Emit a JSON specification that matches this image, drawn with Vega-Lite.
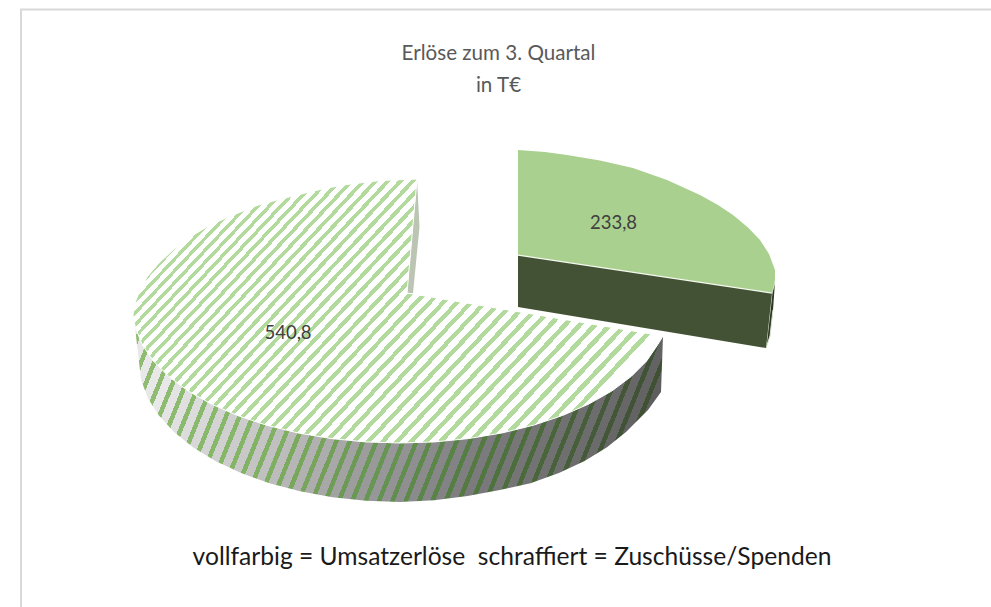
{"$schema":"https://vega.github.io/schema/vega-lite/v6.json","width":991,"height":607,"padding":0,"autosize":"none","background":"white","config":{"view":{"stroke":null}},
"title":{"text":["Erlöse zum 3. Quartal","in T€"],"font":"Lato","fontSize":20.6,"fontWeight":"normal","color":"#595959","anchor":"middle","dx":3,"offset":-97,"lineHeight":32},
"encoding":{"x":{"field":"x","type":"quantitative","scale":{"domain":[0,991]},"axis":null},"y":{"field":"y","type":"quantitative","scale":{"domain":[607,0]},"axis":null}},
"layer":[
{"mark":{"type":"line","stroke":"#d9d9d9","strokeWidth":2},"encoding":{"order":{"value":null}},"data":{"values":[{"x":991,"y":9.5},{"x":21,"y":9.5},{"x":21,"y":607}]}},
{"mark":{"type":"line","fill":"#bcc4b4","stroke":null},"encoding":{"order":{"value":null}},"data":{"values":[{"x":417,"y":179},{"x":419.5,"y":227},{"x":413,"y":293},{"x":407,"y":293}]}},
{"mark":{"type":"line","stroke":null,"fill":{"gradient":"linear","x1":0,"y1":0,"x2":1.1225,"y2":0.1646,"stops":[
{"offset":0,"color":"#8fbc72"},{"offset":0.008,"color":"#8fbc72"},{"offset":0.008,"color":"#e8e8e8"},{"offset":0.022,"color":"#e8e8e8"},
{"offset":0.022,"color":"#8fbc72"},{"offset":0.03,"color":"#8fbc72"},{"offset":0.03,"color":"#e8e8e8"},{"offset":0.044,"color":"#e8e8e8"},
{"offset":0.044,"color":"#8fbc72"},{"offset":0.052,"color":"#8fbc72"},{"offset":0.052,"color":"#e8e8e8"},{"offset":0.066,"color":"#e8e8e8"},
{"offset":0.066,"color":"#8fbc72"},{"offset":0.074,"color":"#8fbc72"},{"offset":0.074,"color":"#e8e8e8"},{"offset":0.088,"color":"#e8e8e8"},
{"offset":0.088,"color":"#8fbc72"},{"offset":0.096,"color":"#8fbc72"},{"offset":0.096,"color":"#e8e8e8"},{"offset":0.11,"color":"#e8e8e8"},
{"offset":0.11,"color":"#8dbb70"},{"offset":0.118,"color":"#8dbb70"},{"offset":0.118,"color":"#e4e4e4"},{"offset":0.132,"color":"#e4e4e4"},
{"offset":0.132,"color":"#8cbb6f"},{"offset":0.14,"color":"#8cbb6f"},{"offset":0.14,"color":"#e0e0e0"},{"offset":0.154,"color":"#e0e0e0"},
{"offset":0.154,"color":"#8aba6d"},{"offset":0.162,"color":"#8aba6d"},{"offset":0.162,"color":"#dcdcdc"},{"offset":0.176,"color":"#dcdcdc"},
{"offset":0.176,"color":"#89b96c"},{"offset":0.184,"color":"#89b96c"},{"offset":0.184,"color":"#d8d8d8"},{"offset":0.198,"color":"#d8d8d8"},
{"offset":0.198,"color":"#88b86a"},{"offset":0.206,"color":"#88b86a"},{"offset":0.206,"color":"#d4d4d4"},{"offset":0.22,"color":"#d4d4d4"},
{"offset":0.22,"color":"#87b869"},{"offset":0.228,"color":"#87b869"},{"offset":0.228,"color":"#d0d0d0"},{"offset":0.242,"color":"#d0d0d0"},
{"offset":0.242,"color":"#86b768"},{"offset":0.25,"color":"#86b768"},{"offset":0.25,"color":"#cccccc"},{"offset":0.264,"color":"#cccccc"},
{"offset":0.264,"color":"#84b566"},{"offset":0.272,"color":"#84b566"},{"offset":0.272,"color":"#c8c8c8"},{"offset":0.286,"color":"#c8c8c8"},
{"offset":0.286,"color":"#82b264"},{"offset":0.294,"color":"#82b264"},{"offset":0.294,"color":"#c4c4c4"},{"offset":0.308,"color":"#c4c4c4"},
{"offset":0.308,"color":"#80b062"},{"offset":0.316,"color":"#80b062"},{"offset":0.316,"color":"#c0c0c0"},{"offset":0.33,"color":"#c0c0c0"},
{"offset":0.33,"color":"#7eae60"},{"offset":0.338,"color":"#7eae60"},{"offset":0.338,"color":"#bcbcbc"},{"offset":0.352,"color":"#bcbcbc"},
{"offset":0.352,"color":"#7baa5e"},{"offset":0.36,"color":"#7baa5e"},{"offset":0.36,"color":"#b6b6b6"},{"offset":0.374,"color":"#b6b6b6"},
{"offset":0.374,"color":"#78a75c"},{"offset":0.382,"color":"#78a75c"},{"offset":0.382,"color":"#b1b1b1"},{"offset":0.396,"color":"#b1b1b1"},
{"offset":0.396,"color":"#76a55b"},{"offset":0.404,"color":"#76a55b"},{"offset":0.404,"color":"#adadad"},{"offset":0.418,"color":"#adadad"},
{"offset":0.418,"color":"#739f59"},{"offset":0.426,"color":"#739f59"},{"offset":0.426,"color":"#a8a8a8"},{"offset":0.44,"color":"#a8a8a8"},
{"offset":0.44,"color":"#6f9d57"},{"offset":0.448,"color":"#6f9d57"},{"offset":0.448,"color":"#a2a2a2"},{"offset":0.462,"color":"#a2a2a2"},
{"offset":0.462,"color":"#6c9a56"},{"offset":0.47,"color":"#6c9a56"},{"offset":0.47,"color":"#9d9d9d"},{"offset":0.484,"color":"#9d9d9d"},
{"offset":0.484,"color":"#699855"},{"offset":0.492,"color":"#699855"},{"offset":0.492,"color":"#999999"},{"offset":0.506,"color":"#999999"},
{"offset":0.506,"color":"#679653"},{"offset":0.514,"color":"#679653"},{"offset":0.514,"color":"#979799"},{"offset":0.528,"color":"#979799"},
{"offset":0.528,"color":"#649250"},{"offset":0.536,"color":"#649250"},{"offset":0.536,"color":"#939395"},{"offset":0.55,"color":"#939395"},
{"offset":0.55,"color":"#618e4e"},{"offset":0.558,"color":"#618e4e"},{"offset":0.558,"color":"#8f8f91"},{"offset":0.572,"color":"#8f8f91"},
{"offset":0.572,"color":"#5d8a4b"},{"offset":0.58,"color":"#5d8a4b"},{"offset":0.58,"color":"#8b8b8d"},{"offset":0.594,"color":"#8b8b8d"},
{"offset":0.594,"color":"#5a8649"},{"offset":0.602,"color":"#5a8649"},{"offset":0.602,"color":"#878789"},{"offset":0.616,"color":"#878789"},
{"offset":0.616,"color":"#588246"},{"offset":0.624,"color":"#588246"},{"offset":0.624,"color":"#838385"},{"offset":0.638,"color":"#838385"},
{"offset":0.638,"color":"#557e44"},{"offset":0.646,"color":"#557e44"},{"offset":0.646,"color":"#7f7f81"},{"offset":0.66,"color":"#7f7f81"},
{"offset":0.66,"color":"#547a42"},{"offset":0.668,"color":"#547a42"},{"offset":0.668,"color":"#7b7b7d"},{"offset":0.682,"color":"#7b7b7d"},
{"offset":0.682,"color":"#517640"},{"offset":0.69,"color":"#517640"},{"offset":0.69,"color":"#79797b"},{"offset":0.704,"color":"#79797b"},
{"offset":0.704,"color":"#4e723e"},{"offset":0.712,"color":"#4e723e"},{"offset":0.712,"color":"#777778"},{"offset":0.726,"color":"#777778"},
{"offset":0.726,"color":"#4c6e3d"},{"offset":0.734,"color":"#4c6e3d"},{"offset":0.734,"color":"#757575"},{"offset":0.748,"color":"#757575"},
{"offset":0.748,"color":"#4a6a3c"},{"offset":0.756,"color":"#4a6a3c"},{"offset":0.756,"color":"#737373"},{"offset":0.77,"color":"#737373"},
{"offset":0.77,"color":"#49663b"},{"offset":0.778,"color":"#49663b"},{"offset":0.778,"color":"#717171"},{"offset":0.792,"color":"#717171"},
{"offset":0.792,"color":"#47623b"},{"offset":0.8,"color":"#47623b"},{"offset":0.8,"color":"#6f6f6f"},{"offset":0.814,"color":"#6f6f6f"},
{"offset":0.814,"color":"#465e3a"},{"offset":0.822,"color":"#465e3a"},{"offset":0.822,"color":"#6d6d6d"},{"offset":0.836,"color":"#6d6d6d"},
{"offset":0.836,"color":"#455a3a"},{"offset":0.844,"color":"#455a3a"},{"offset":0.844,"color":"#6b6b6b"},{"offset":0.858,"color":"#6b6b6b"},
{"offset":0.858,"color":"#435638"},{"offset":0.866,"color":"#435638"},{"offset":0.866,"color":"#676767"},{"offset":0.88,"color":"#676767"},
{"offset":0.88,"color":"#415336"},{"offset":0.888,"color":"#415336"},{"offset":0.888,"color":"#636363"},{"offset":0.902,"color":"#636363"},
{"offset":0.902,"color":"#3f5033"},{"offset":0.91,"color":"#3f5033"},{"offset":0.91,"color":"#5e5e5e"},{"offset":0.924,"color":"#5e5e5e"},
{"offset":0.924,"color":"#3d4c30"},{"offset":0.932,"color":"#3d4c30"},{"offset":0.932,"color":"#585858"},{"offset":0.946,"color":"#585858"},
{"offset":0.946,"color":"#3d4c30"},{"offset":0.954,"color":"#3d4c30"},{"offset":0.954,"color":"#585858"},{"offset":0.968,"color":"#585858"},
{"offset":0.968,"color":"#3d4c30"},{"offset":0.976,"color":"#3d4c30"},{"offset":0.976,"color":"#585858"},{"offset":0.99,"color":"#585858"},
{"offset":0.99,"color":"#3d4c30"},{"offset":1,"color":"#3d4c30"}
]}},"encoding":{"order":{"value":null}},"data":{"values":[{"x":663,"y":336},{"x":661,"y":392},{"x":648,"y":410},{"x":626,"y":432},{"x":607,"y":447.2},{"x":584.6,"y":461},{"x":558.9,"y":473.1},{"x":530.5,"y":483.2},{"x":499.9,"y":490},{"x":467.6,"y":496},{"x":434.1,"y":500.3},{"x":400,"y":502},{"x":365.9,"y":500.8},{"x":332.4,"y":497.2},{"x":300.1,"y":491.3},{"x":269.5,"y":483.2},{"x":241.1,"y":473.1},{"x":215.4,"y":461},{"x":193,"y":447.2},{"x":174,"y":432},{"x":158.9,"y":415.6},{"x":147.9,"y":398.2},{"x":141.2,"y":380.3},{"x":139,"y":362},{"x":133,"y":310},{"x":400,"y":400}]}},
{"mark":{"type":"line","stroke":"white","strokeWidth":1,"fill":{"gradient":"linear","x1":0,"y1":0,"x2":1.0475,"y2":0.4904,"stops":[
{"offset":0,"color":"#b2da9c"},{"offset":0.0061,"color":"#b2da9c"},{"offset":0.0061,"color":"#ffffff"},{"offset":0.0146,"color":"#ffffff"},
{"offset":0.0146,"color":"#b2da9c"},{"offset":0.0208,"color":"#b2da9c"},{"offset":0.0208,"color":"#ffffff"},{"offset":0.0293,"color":"#ffffff"},
{"offset":0.0293,"color":"#b2da9c"},{"offset":0.0355,"color":"#b2da9c"},{"offset":0.0355,"color":"#ffffff"},{"offset":0.0442,"color":"#ffffff"},
{"offset":0.0442,"color":"#b2da9c"},{"offset":0.0505,"color":"#b2da9c"},{"offset":0.0505,"color":"#ffffff"},{"offset":0.0593,"color":"#ffffff"},
{"offset":0.0593,"color":"#b2da9c"},{"offset":0.0657,"color":"#b2da9c"},{"offset":0.0657,"color":"#ffffff"},{"offset":0.0745,"color":"#ffffff"},
{"offset":0.0745,"color":"#b2da9c"},{"offset":0.0809,"color":"#b2da9c"},{"offset":0.0809,"color":"#ffffff"},{"offset":0.0899,"color":"#ffffff"},
{"offset":0.0899,"color":"#b2da9c"},{"offset":0.0964,"color":"#b2da9c"},{"offset":0.0964,"color":"#ffffff"},{"offset":0.1054,"color":"#ffffff"},
{"offset":0.1054,"color":"#b2da9c"},{"offset":0.112,"color":"#b2da9c"},{"offset":0.112,"color":"#ffffff"},{"offset":0.1211,"color":"#ffffff"},
{"offset":0.1211,"color":"#b2da9c"},{"offset":0.1277,"color":"#b2da9c"},{"offset":0.1277,"color":"#ffffff"},{"offset":0.137,"color":"#ffffff"},
{"offset":0.137,"color":"#b2da9c"},{"offset":0.1437,"color":"#b2da9c"},{"offset":0.1437,"color":"#ffffff"},{"offset":0.153,"color":"#ffffff"},
{"offset":0.153,"color":"#b2da9c"},{"offset":0.1598,"color":"#b2da9c"},{"offset":0.1598,"color":"#ffffff"},{"offset":0.1692,"color":"#ffffff"},
{"offset":0.1692,"color":"#b2da9c"},{"offset":0.176,"color":"#b2da9c"},{"offset":0.176,"color":"#ffffff"},{"offset":0.1855,"color":"#ffffff"},
{"offset":0.1855,"color":"#b2da9c"},{"offset":0.1924,"color":"#b2da9c"},{"offset":0.1924,"color":"#ffffff"},{"offset":0.202,"color":"#ffffff"},
{"offset":0.202,"color":"#b2da9c"},{"offset":0.209,"color":"#b2da9c"},{"offset":0.209,"color":"#ffffff"},{"offset":0.2187,"color":"#ffffff"},
{"offset":0.2187,"color":"#b2da9c"},{"offset":0.2257,"color":"#b2da9c"},{"offset":0.2257,"color":"#ffffff"},{"offset":0.2355,"color":"#ffffff"},
{"offset":0.2355,"color":"#b2da9c"},{"offset":0.2426,"color":"#b2da9c"},{"offset":0.2426,"color":"#ffffff"},{"offset":0.2525,"color":"#ffffff"},
{"offset":0.2525,"color":"#b2da9c"},{"offset":0.2597,"color":"#b2da9c"},{"offset":0.2597,"color":"#ffffff"},{"offset":0.2697,"color":"#ffffff"},
{"offset":0.2697,"color":"#b2da9c"},{"offset":0.2769,"color":"#b2da9c"},{"offset":0.2769,"color":"#ffffff"},{"offset":0.2869,"color":"#ffffff"},
{"offset":0.2869,"color":"#b2da9c"},{"offset":0.2942,"color":"#b2da9c"},{"offset":0.2942,"color":"#ffffff"},{"offset":0.3044,"color":"#ffffff"},
{"offset":0.3044,"color":"#b2da9c"},{"offset":0.3118,"color":"#b2da9c"},{"offset":0.3118,"color":"#ffffff"},{"offset":0.322,"color":"#ffffff"},
{"offset":0.322,"color":"#b2da9c"},{"offset":0.3294,"color":"#b2da9c"},{"offset":0.3294,"color":"#ffffff"},{"offset":0.3398,"color":"#ffffff"},
{"offset":0.3398,"color":"#b2da9c"},{"offset":0.3473,"color":"#b2da9c"},{"offset":0.3473,"color":"#ffffff"},{"offset":0.3577,"color":"#ffffff"},
{"offset":0.3577,"color":"#b2da9c"},{"offset":0.3653,"color":"#b2da9c"},{"offset":0.3653,"color":"#ffffff"},{"offset":0.3758,"color":"#ffffff"},
{"offset":0.3758,"color":"#b2da9c"},{"offset":0.3834,"color":"#b2da9c"},{"offset":0.3834,"color":"#ffffff"},{"offset":0.3941,"color":"#ffffff"},
{"offset":0.3941,"color":"#b2da9c"},{"offset":0.4018,"color":"#b2da9c"},{"offset":0.4018,"color":"#ffffff"},{"offset":0.4125,"color":"#ffffff"},
{"offset":0.4125,"color":"#b2da9c"},{"offset":0.4203,"color":"#b2da9c"},{"offset":0.4203,"color":"#ffffff"},{"offset":0.4311,"color":"#ffffff"},
{"offset":0.4311,"color":"#b2da9c"},{"offset":0.4389,"color":"#b2da9c"},{"offset":0.4389,"color":"#ffffff"},{"offset":0.4498,"color":"#ffffff"},
{"offset":0.4498,"color":"#b2da9c"},{"offset":0.4577,"color":"#b2da9c"},{"offset":0.4577,"color":"#ffffff"},{"offset":0.4687,"color":"#ffffff"},
{"offset":0.4687,"color":"#b2da9c"},{"offset":0.4767,"color":"#b2da9c"},{"offset":0.4767,"color":"#ffffff"},{"offset":0.4878,"color":"#ffffff"},
{"offset":0.4878,"color":"#b2da9c"},{"offset":0.4958,"color":"#b2da9c"},{"offset":0.4958,"color":"#ffffff"},{"offset":0.507,"color":"#ffffff"},
{"offset":0.507,"color":"#b2da9c"},{"offset":0.5151,"color":"#b2da9c"},{"offset":0.5151,"color":"#ffffff"},{"offset":0.5264,"color":"#ffffff"},
{"offset":0.5264,"color":"#b2da9c"},{"offset":0.5346,"color":"#b2da9c"},{"offset":0.5346,"color":"#ffffff"},{"offset":0.5459,"color":"#ffffff"},
{"offset":0.5459,"color":"#b2da9c"},{"offset":0.5541,"color":"#b2da9c"},{"offset":0.5541,"color":"#ffffff"},{"offset":0.5656,"color":"#ffffff"},
{"offset":0.5656,"color":"#b2da9c"},{"offset":0.5739,"color":"#b2da9c"},{"offset":0.5739,"color":"#ffffff"},{"offset":0.5855,"color":"#ffffff"},
{"offset":0.5855,"color":"#b2da9c"},{"offset":0.5939,"color":"#b2da9c"},{"offset":0.5939,"color":"#ffffff"},{"offset":0.6055,"color":"#ffffff"},
{"offset":0.6055,"color":"#b2da9c"},{"offset":0.6139,"color":"#b2da9c"},{"offset":0.6139,"color":"#ffffff"},{"offset":0.6257,"color":"#ffffff"},
{"offset":0.6257,"color":"#b2da9c"},{"offset":0.6342,"color":"#b2da9c"},{"offset":0.6342,"color":"#ffffff"},{"offset":0.646,"color":"#ffffff"},
{"offset":0.646,"color":"#b2da9c"},{"offset":0.6546,"color":"#b2da9c"},{"offset":0.6546,"color":"#ffffff"},{"offset":0.6665,"color":"#ffffff"},
{"offset":0.6665,"color":"#b2da9c"},{"offset":0.6751,"color":"#b2da9c"},{"offset":0.6751,"color":"#ffffff"},{"offset":0.6872,"color":"#ffffff"},
{"offset":0.6872,"color":"#b2da9c"},{"offset":0.6959,"color":"#b2da9c"},{"offset":0.6959,"color":"#ffffff"},{"offset":0.708,"color":"#ffffff"},
{"offset":0.708,"color":"#b2da9c"},{"offset":0.7168,"color":"#b2da9c"},{"offset":0.7168,"color":"#ffffff"},{"offset":0.729,"color":"#ffffff"},
{"offset":0.729,"color":"#b2da9c"},{"offset":0.7378,"color":"#b2da9c"},{"offset":0.7378,"color":"#ffffff"},{"offset":0.7501,"color":"#ffffff"},
{"offset":0.7501,"color":"#b2da9c"},{"offset":0.759,"color":"#b2da9c"},{"offset":0.759,"color":"#ffffff"},{"offset":0.7714,"color":"#ffffff"},
{"offset":0.7714,"color":"#b2da9c"},{"offset":0.7804,"color":"#b2da9c"},{"offset":0.7804,"color":"#ffffff"},{"offset":0.7929,"color":"#ffffff"},
{"offset":0.7929,"color":"#b2da9c"},{"offset":0.8019,"color":"#b2da9c"},{"offset":0.8019,"color":"#ffffff"},{"offset":0.8145,"color":"#ffffff"},
{"offset":0.8145,"color":"#b2da9c"},{"offset":0.8236,"color":"#b2da9c"},{"offset":0.8236,"color":"#ffffff"},{"offset":0.8363,"color":"#ffffff"},
{"offset":0.8363,"color":"#b2da9c"},{"offset":0.8455,"color":"#b2da9c"},{"offset":0.8455,"color":"#ffffff"},{"offset":0.8582,"color":"#ffffff"},
{"offset":0.8582,"color":"#b2da9c"},{"offset":0.8674,"color":"#b2da9c"},{"offset":0.8674,"color":"#ffffff"},{"offset":0.8803,"color":"#ffffff"},
{"offset":0.8803,"color":"#b2da9c"},{"offset":0.8896,"color":"#b2da9c"},{"offset":0.8896,"color":"#ffffff"},{"offset":0.9026,"color":"#ffffff"},
{"offset":0.9026,"color":"#b2da9c"},{"offset":0.912,"color":"#b2da9c"},{"offset":0.912,"color":"#ffffff"},{"offset":0.925,"color":"#ffffff"},
{"offset":0.925,"color":"#b2da9c"},{"offset":0.9344,"color":"#b2da9c"},{"offset":0.9344,"color":"#ffffff"},{"offset":0.9476,"color":"#ffffff"},
{"offset":0.9476,"color":"#b2da9c"},{"offset":0.9571,"color":"#b2da9c"},{"offset":0.9571,"color":"#ffffff"},{"offset":0.9704,"color":"#ffffff"},
{"offset":0.9704,"color":"#b2da9c"},{"offset":0.98,"color":"#b2da9c"},{"offset":0.98,"color":"#ffffff"},{"offset":1,"color":"#ffffff"}
]}},"encoding":{"order":{"value":null}},"data":{"values":[{"x":417,"y":179},{"x":380,"y":180.5},{"x":343,"y":185},{"x":320,"y":189.5},{"x":297,"y":195},{"x":277,"y":200},{"x":257,"y":205.5},{"x":233,"y":215},{"x":210,"y":225},{"x":190,"y":237},{"x":173,"y":250},{"x":159,"y":263},{"x":147,"y":277},{"x":140,"y":290},{"x":135,"y":303},{"x":133,"y":315},{"x":135.3,"y":327.4},{"x":142.1,"y":344.4},{"x":153.3,"y":360.9},{"x":168.8,"y":376.5},{"x":188.2,"y":391},{"x":211.2,"y":404},{"x":237.5,"y":415.5},{"x":266.5,"y":425.2},{"x":297.8,"y":432.9},{"x":330.9,"y":438.5},{"x":365.2,"y":441.9},{"x":400,"y":443},{"x":434.8,"y":441.9},{"x":469.1,"y":438.5},{"x":502.2,"y":432.9},{"x":533.5,"y":425.2},{"x":562.5,"y":415.5},{"x":588.8,"y":404},{"x":611.8,"y":391},{"x":631.2,"y":376.5},{"x":646.7,"y":360.9},{"x":657.9,"y":344.4},{"x":663,"y":336},{"x":407,"y":293},{"x":417,"y":179}]}},
{"mark":{"type":"line","fill":"#2f3a26","stroke":"#dfe6d5","strokeWidth":1},"encoding":{"order":{"value":null}},"data":{"values":[{"x":775,"y":282},{"x":772,"y":293},{"x":766,"y":348},{"x":770,"y":336},{"x":773,"y":310}]}},
{"mark":{"type":"line","fill":"#435234","stroke":null},"encoding":{"order":{"value":null}},"data":{"values":[{"x":518,"y":255},{"x":772,"y":293},{"x":766,"y":348},{"x":518,"y":307}]}},
{"mark":{"type":"line","stroke":"#f4f8ee","strokeWidth":1.5},"encoding":{"order":{"value":null}},"data":{"values":[{"x":518,"y":255},{"x":772,"y":293}]}},
{"mark":{"type":"line","fill":"#a9d08e","stroke":null},"encoding":{"order":{"value":null}},"data":{"values":[{"x":518,"y":150},{"x":545,"y":152},{"x":567,"y":155},{"x":600,"y":160.5},{"x":633,"y":168},{"x":667,"y":180},{"x":700,"y":195},{"x":718,"y":205},{"x":733,"y":215},{"x":748,"y":227.5},{"x":760,"y":240},{"x":769,"y":254},{"x":775,"y":270},{"x":775,"y":280},{"x":772,"y":292.5},{"x":518,"y":254.5}]}},
{"mark":{"type":"text","font":"Lato","fontSize":18.5,"color":"#404040","align":"center","baseline":"middle"},"encoding":{"text":{"field":"wert"}},"data":{"values":[{"wert":"233,8","kategorie":"Umsatzerlöse","x":613.5,"y":222.5},{"wert":"540,8","kategorie":"Zuschüsse/Spenden","x":288,"y":333}]}},
{"mark":{"type":"text","font":"Lato","fontSize":24.6,"color":"#1a1a1a","align":"center","baseline":"middle"},"encoding":{"text":{"field":"t"}},"data":{"values":[{"t":"vollfarbig = Umsatzerlöse\u00a0\u00a0schraffiert = Zuschüsse/Spenden","x":512,"y":558}]}}
]}
